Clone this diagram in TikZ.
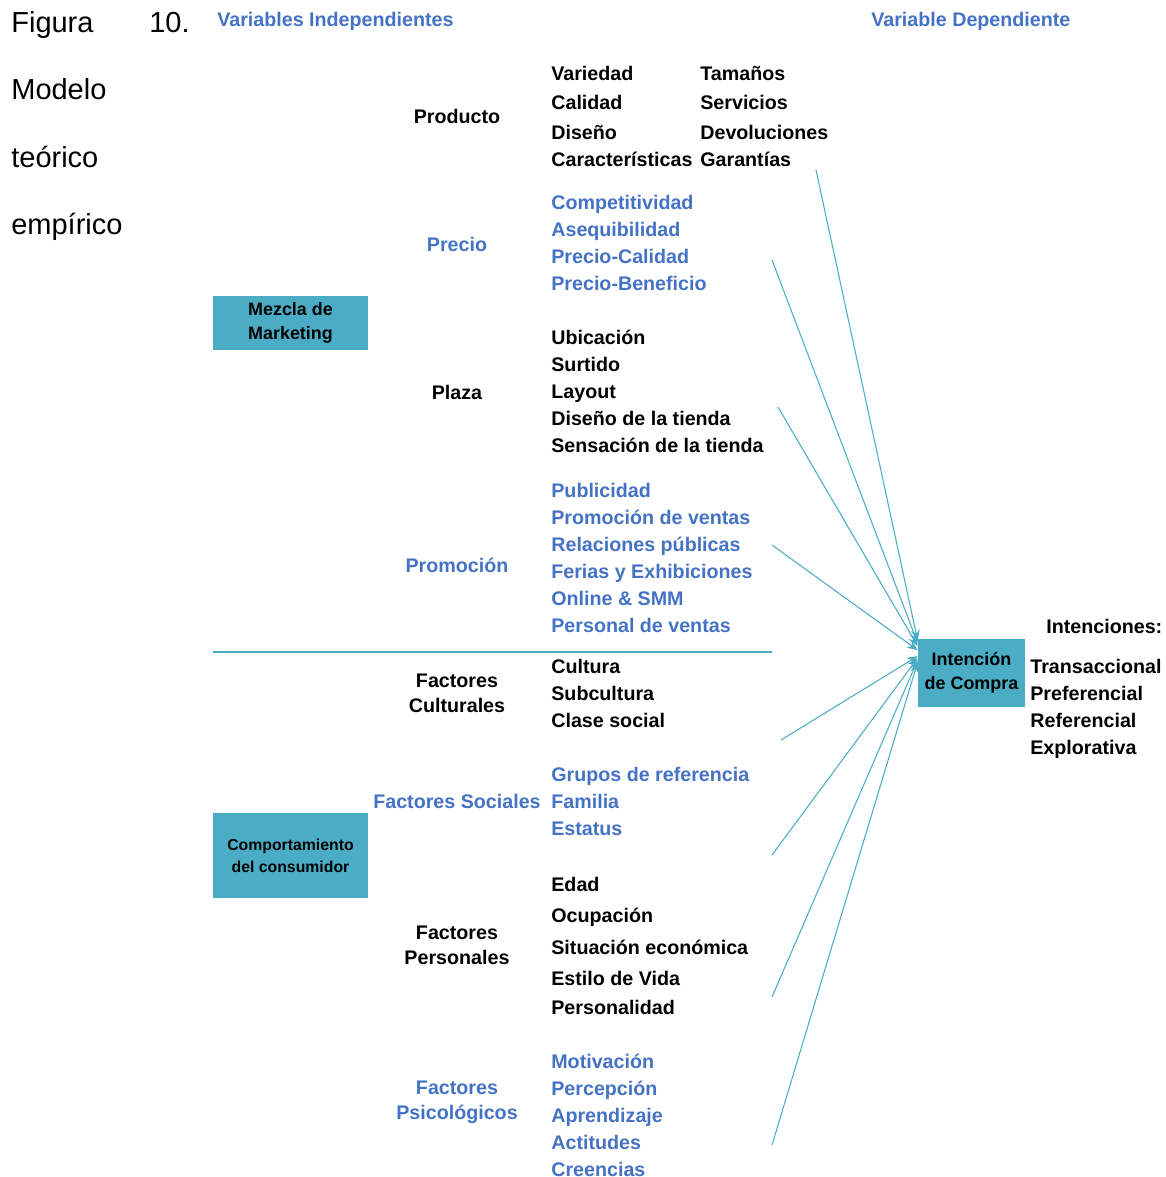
\documentclass[tikz,border=0pt]{standalone}
\usepackage{fontspec}
\setmainfont{Liberation Sans}
\usetikzlibrary{arrows.meta}
\definecolor{myblue}{HTML}{4472C4}
\definecolor{myaqua}{HTML}{4BACC6}

\tikzset{
  item/.style={anchor=base west, inner sep=0pt, font=\bfseries\fontsize{11.2}{13}\selectfont},
  cat/.style={align=center, inner sep=0pt, font=\bfseries\fontsize{11.2}{14.2}\selectfont},
  varbox/.style={fill=myaqua, inner sep=0pt, align=center},
  link/.style={myaqua, line width=0.6pt, -{Stealth[length=6pt,width=5pt]}},
  caption/.style={anchor=base west, inner sep=0pt, font=\fontsize{16.5}{18}\selectfont}
}

\begin{document}
\begin{tikzpicture}[x=0.02cm, y=-0.02cm]
    \useasboundingbox (0,0) rectangle (1166,1177);

    % caption
    \node[caption] (fig) at (11,32) {Figura};
    \node[caption] (num) at (149,32) {10.};
    \node[caption] (cap1) at (11,99) {Modelo};
    \node[caption] (cap2) at (11,167) {teórico};
    \node[caption] (cap3) at (11,234) {empírico};

    \node[item, myblue] (indep) at (217,26) {Variables Independientes};
    \node[item, myblue] (dep) at (871,26) {Variable Dependiente};

    % boxes
    \node[varbox, minimum width=3.1cm, minimum height=1.08cm,
          font=\bfseries\fontsize{10.2}{13.7}\selectfont] (mkt) at (290.5,323) {\raisebox{-2pt}{Mezcla de}\\\raisebox{-2pt}{Marketing}};
    \node[varbox, minimum width=3.1cm, minimum height=1.7cm,
          font=\bfseries\fontsize{9}{12.5}\selectfont] (cons) at (290.5,855.5) {Comportamiento\\del consumidor};
    \node[varbox, minimum width=2.14cm, minimum height=1.36cm,
          font=\bfseries\fontsize{10.2}{13.9}\selectfont] (int) at (971.5,673) {Intención\\de Compra};

    % categories
    \node[cat] (prod) at (457,116) {Producto};
    \node[cat, myblue] (prec) at (457,244) {Precio};
    \node[cat] (plaz) at (457,392) {Plaza};
    \node[cat, myblue] (prom) at (457,565) {Promoción};
    \node[cat] (cult) at (457,693) {Factores\\Culturales};
    \node[cat, myblue] (soc) at (457,801) {Factores Sociales};
    \node[cat] (pers) at (457,945) {Factores\\Personales};
    \node[cat, myblue] (psic) at (457,1102) {Factores\\Psicológicos};

    % items
    \foreach \t/\y in {Variedad/73, Calidad/102, Diseño/132, Características/159}
        \node[item] (prod-\y) at (551,\y+7) {\t};
    \foreach \t/\y in {Tamaños/73, Servicios/102, Devoluciones/132, Garantías/159}
        \node[item] (prodb-\y) at (700,\y+7) {\t};
    \foreach \t/\y in {Competitividad/202, Asequibilidad/229, Precio-Calidad/256, Precio-Beneficio/283}
        \node[item, myblue] (prec-\y) at (551,\y+7) {\t};
    \foreach \t/\y in {Ubicación/337, Surtido/364, Layout/391, Diseño de la tienda/418, Sensación de la tienda/445}
        \node[item] (plaz-\y) at (551,\y+7) {\t};
    \foreach \t/\y in {Publicidad/490, Promoción de ventas/517, Relaciones públicas/544, Ferias y Exhibiciones/571, Online \& SMM/598, Personal de ventas/625}
        \node[item, myblue] (prom-\y) at (551,\y+7) {\t};
    \foreach \t/\y in {Cultura/666, Subcultura/693, Clase social/720}
        \node[item] (cult-\y) at (551,\y+7) {\t};
    \foreach \t/\y in {Grupos de referencia/774, Familia/801, Estatus/828}
        \node[item, myblue] (soc-\y) at (551,\y+7) {\t};
    \foreach \t/\y in {Edad/884, Ocupación/915, Situación económica/947, Estilo de Vida/978, Personalidad/1007}
        \node[item] (pers-\y) at (551,\y+7) {\t};
    \foreach \t/\y in {Motivación/1061, Percepción/1088, Aprendizaje/1115, Actitudes/1142, Creencias/1169}
        \node[item, myblue] (psic-\y) at (551,\y+7) {\t};

    % intenciones
    \node[item] (intt) at (1046,633) {Intenciones:};
    \foreach \t/\y in {Transaccional/666, Preferencial/693, Referencial/720, Explorativa/747}
        \node[item] (intk-\y) at (1030,\y+7) {\t};

    % separator
    \coordinate (sepa) at (213,652);
    \coordinate (sepb) at (772,652);
    \draw[myaqua, line width=0.6pt] (sepa) -- (sepb);

    % links
    \coordinate (s1) at (816,170);
    \coordinate (s2) at (772,260);
    \coordinate (s3) at (778,407);
    \coordinate (s4) at (772,545);
    \coordinate (s5) at (781,740);
    \coordinate (s6) at (772,855);
    \coordinate (s7) at (772,997);
    \coordinate (s8) at (772,1145);
    \foreach \s/\d in {s1/18.5, s2/17, s3/15.3, s4/13, s5/9.6, s6/8.5, s7/7.3, s8/6.2}
        \draw[link] (\s) -- ([yshift=\d pt]int.west);
\end{tikzpicture}
\end{document}
